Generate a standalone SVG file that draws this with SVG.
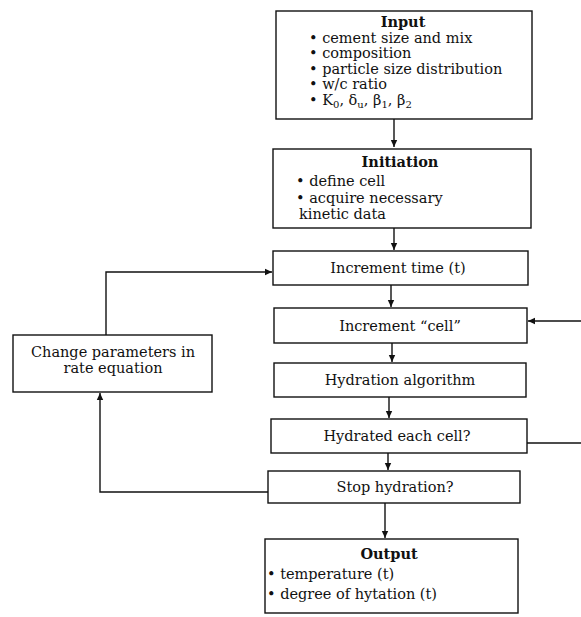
<svg xmlns="http://www.w3.org/2000/svg" width="581" height="617" viewBox="0 0 581 617">
<defs>
<marker id="ah" markerWidth="8" markerHeight="8" refX="7" refY="4" orient="auto" markerUnits="userSpaceOnUse">
<path d="M0,0.8 L7,4 L0,7.2 Z" fill="#111"/>
</marker>
<style>
.box{fill:#fff;stroke:#111;stroke-width:1.4}
.t{font-family:"DejaVu Serif","Liberation Serif",serif;font-size:14.5px;fill:#111}
.c{text-anchor:middle}
.b{font-weight:bold}
.ln{fill:none;stroke:#111;stroke-width:1.4}
</style>
</defs>
<rect width="581" height="617" fill="#fff"/>
<g id="connectors">
<path class="ln" d="M394,119 V147" marker-end="url(#ah)"/>
<path class="ln" d="M394,228 V250" marker-end="url(#ah)"/>
<path class="ln" d="M391,285 V307" marker-end="url(#ah)"/>
<path class="ln" d="M392,343 V362" marker-end="url(#ah)"/>
<path class="ln" d="M389,397 V418" marker-end="url(#ah)"/>
<path class="ln" d="M388,453 V470" marker-end="url(#ah)"/>
<path class="ln" d="M385,503 V538" marker-end="url(#ah)"/>
<path class="ln" d="M581,321 H528" marker-end="url(#ah)"/>
<path class="ln" d="M527,443 H581"/>
<path class="ln" d="M268,492 H100 V393" marker-end="url(#ah)"/>
<path class="ln" d="M106,335 V272 H272" marker-end="url(#ah)"/>
</g>
<g id="input">
<rect class="box" x="276" y="11" width="256" height="108"/>
<text class="t b c" x="403" y="27">Input</text>
<text class="t" x="309" y="43">• cement size and mix</text>
<text class="t" x="309" y="58">• composition</text>
<text class="t" x="309" y="74">• particle size distribution</text>
<text class="t" x="309" y="89">• w/c ratio</text>
<text class="t" x="309" y="105">• K<tspan font-size="10" dy="3">0</tspan><tspan dy="-3">, δ</tspan><tspan font-size="10" dy="3">u</tspan><tspan dy="-3">, β</tspan><tspan font-size="10" dy="3">1</tspan><tspan dy="-3">, β</tspan><tspan font-size="10" dy="3">2</tspan></text>
</g>
<g id="initiation">
<rect class="box" x="273" y="149" width="258" height="79"/>
<text class="t b c" x="400" y="167">Initiation</text>
<text class="t" x="296" y="186">• define cell</text>
<text class="t" x="296" y="203">• acquire necessary</text>
<text class="t" x="299" y="219">kinetic data</text>
</g>
<g id="increment-time">
<rect class="box" x="273" y="251" width="255" height="34"/>
<text class="t c" x="398" y="273">Increment time (t)</text>
</g>
<g id="increment-cell">
<rect class="box" x="274" y="308" width="253" height="35"/>
<text class="t c" x="400" y="331">Increment “cell”</text>
</g>
<g id="hydration-algorithm">
<rect class="box" x="274" y="363" width="252" height="34"/>
<text class="t c" x="400" y="385">Hydration algorithm</text>
</g>
<g id="hydrated-each-cell">
<rect class="box" x="271" y="419" width="256" height="34"/>
<text class="t c" x="397" y="441">Hydrated each cell?</text>
</g>
<g id="stop-hydration">
<rect class="box" x="268" y="471" width="252" height="32"/>
<text class="t c" x="395" y="492">Stop hydration?</text>
</g>
<g id="change-parameters">
<rect class="box" x="13" y="335" width="199" height="57"/>
<text class="t c" x="113" y="357">Change parameters in</text>
<text class="t c" x="113" y="373">rate equation</text>
</g>
<g id="output">
<rect class="box" x="265" y="539" width="253" height="74"/>
<text class="t b c" x="389" y="559">Output</text>
<text class="t" x="267" y="579">• temperature (t)</text>
<text class="t" x="267" y="599">• degree of hytation (t)</text>
</g>
</svg>
